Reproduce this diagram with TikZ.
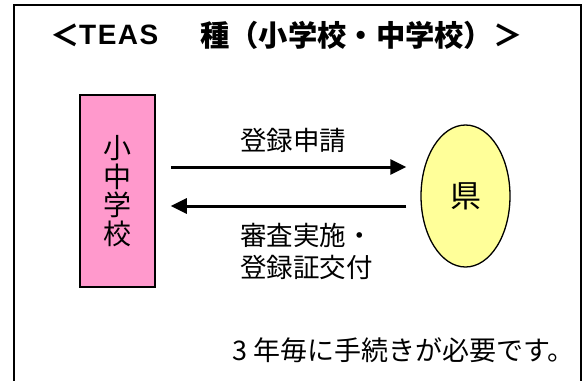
\documentclass[tikz,border=0pt]{standalone}
\usepackage{fontspec}
\setmainfont{Noto Sans CJK JP}
\newfontfamily\latinsans{Liberation Sans}
\usetikzlibrary{arrows.meta,shapes.geometric}
\definecolor{pinkfill}{HTML}{FF99CC}
\definecolor{yellowfill}{HTML}{FFFF99}
\tikzset{
  frame/.style={draw=black,line width=2pt},
  schoolbox/.style={draw=black,line width=1.5pt,fill=pinkfill,minimum width=75pt,minimum height=192pt,inner sep=0pt},
  kenbox/.style={ellipse,draw=black,line width=1.3pt,fill=yellowfill,minimum width=89pt,minimum height=142pt,inner sep=0pt},
  arr/.style={line width=3pt,-{Triangle[length=16pt,width=15pt]}},
  lbl/.style={font=\fontsize{26.5}{32}\selectfont,inner sep=0pt},
  ttl/.style={inner sep=0pt,font=\fontsize{29.3}{32}\selectfont\bfseries},
}
\begin{document}
\begin{tikzpicture}[x=1pt,y=-1pt]
\useasboundingbox (0,0) rectangle (583,380);
\draw[frame] (14,400) -- (14,5) -- (581,5) -- (581,400);
\node[ttl] (titlea) at (65.5,35) {＜};
\node[ttl,anchor=west,font=\fontsize{28}{30}\selectfont\bfseries\latinsans] (titleb) at (79,35) {T\hspace{1.5pt}E\hspace{1.5pt}A\hspace{1.5pt}S};
\node[ttl,anchor=west] (titlec) at (200,35) {種（小学校・中学校）＞};
\node[schoolbox] (school) at (117.5,191) {};
\node[lbl,font=\fontsize{28}{28.5}\selectfont,align=center] (schooltxt) at (school.center) {小\\中\\学\\校};
\node[kenbox] (ken) at (465.5,196) {};
\node[lbl,font=\fontsize{31}{31}\selectfont] (kentxt) at (ken.center) {県};
\draw[arr,shorten <=15pt,shorten >=14pt] ([yshift=24pt]school.east) -- ([yshift=24pt]school.east -| ken.west);
\draw[arr,shorten <=14pt,shorten >=15pt] ([yshift=-15pt]school.east -| ken.west) -- ([yshift=-15pt]school.east);
\node[lbl,anchor=west] (apply) at (240,140) {登録申請};
\node[lbl,align=left,anchor=west] (review) at (240,251) {審査実施・\\登録証交付};
\node[lbl,anchor=west,font=\fontsize{27}{32}\selectfont] (note) at (232,350) {3\hspace{6pt}年毎に手続きが必要です。};
\end{tikzpicture}
\end{document}
